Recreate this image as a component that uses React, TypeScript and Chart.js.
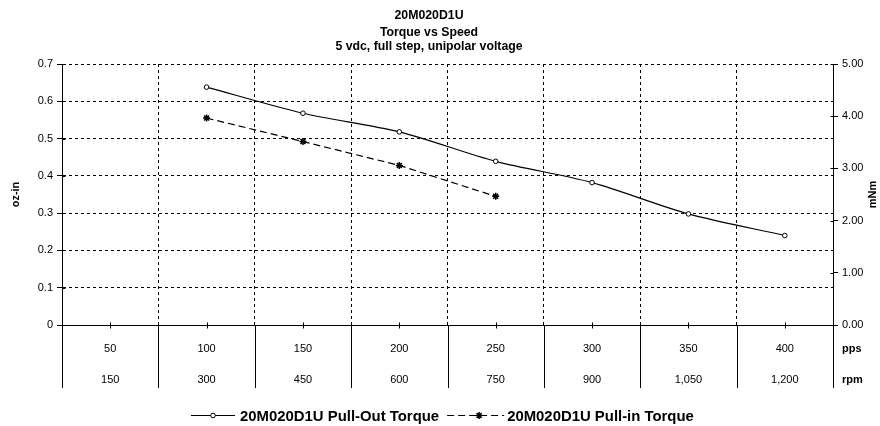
import React, { useEffect, useRef } from "react";
import { Chart, registerables } from "chart.js";

Chart.register(...registerables);

const titleLines = ["20M020D1U", "Torque vs Speed", "5 vdc, full step, unipolar voltage"];
const ppsLabels = ["50", "100", "150", "200", "250", "300", "350", "400"];
const rpmLabels = ["150", "300", "450", "600", "750", "900", "1,050", "1,200"];
const rowTitles = ["pps", "rpm"];
const pullOutTorque = [null, 0.638, 0.568, 0.518, 0.439, 0.382, 0.298, 0.24];
const pullInTorque = [null, 0.555, 0.492, 0.428, 0.345, null, null, null];
const seriesNames = ["20M020D1U Pull-Out Torque", "20M020D1U Pull-in Torque"];
const leftAxisTitle = "oz-in";
const rightAxisTitle = "mNm";

const FONT = '"Liberation Sans", Arial, Helvetica, sans-serif';

function drawStar(ctx: CanvasRenderingContext2D, x: number, y: number, r: number) {
  ctx.beginPath();
  ctx.moveTo(x - r, y);
  ctx.lineTo(x + r, y);
  ctx.moveTo(x, y - r);
  ctx.lineTo(x, y + r);
  const d = r * Math.SQRT1_2;
  ctx.moveTo(x - d, y - d);
  ctx.lineTo(x + d, y + d);
  ctx.moveTo(x - d, y + d);
  ctx.lineTo(x + d, y - d);
  ctx.stroke();
}

const extrasPlugin = {
  id: "extras",
  afterDraw(chart: any) {
    const ctx: CanvasRenderingContext2D = chart.ctx;
    const area = chart.chartArea;
    const xs = chart.scales.x;
    const ys = chart.scales.y;
    const y2 = chart.scales.y2;
    const L = Math.round(area.left) + 0.5;
    const R = Math.round(area.right) + 0.5;
    const B = Math.round(area.bottom) + 0.5;
    ctx.save();
    ctx.fillStyle = "#000";
    ctx.strokeStyle = "#000";
    ctx.lineWidth = 1;
    ctx.setLineDash([]);

    // Title
    ctx.font = `bold 12.3px ${FONT}`;
    ctx.textAlign = "center";
    ctx.textBaseline = "middle";
    const titleY = [16, 32.5, 47];
    titleLines.forEach((t, i) => ctx.fillText(t, 429, titleY[i]));

    // Axis titles
    ctx.font = `bold 11px ${FONT}`;
    const midY = (area.top + area.bottom) / 2;
    ctx.save();
    ctx.translate(16, midY);
    ctx.rotate(-Math.PI / 2);
    ctx.fillText(leftAxisTitle, 0, 0);
    ctx.restore();
    ctx.save();
    ctx.translate(873, midY);
    ctx.rotate(-Math.PI / 2);
    ctx.fillText(rightAxisTitle, 0, 0);
    ctx.restore();

    // inward parts of y ticks
    ctx.beginPath();
    ys.ticks.forEach((t: any) => {
      const py = Math.round(ys.getPixelForValue(t.value)) + 0.5;
      ctx.moveTo(L, py);
      ctx.lineTo(L + 3, py);
    });
    y2.ticks.forEach((t: any) => {
      const py = Math.round(y2.getPixelForValue(t.value)) + 0.5;
      ctx.moveTo(R - 3, py);
      ctx.lineTo(R, py);
    });
    ctx.stroke();

    // Data table lines below the axis
    const n = ppsLabels.length;
    const half = (xs.getPixelForValue(1) - xs.getPixelForValue(0)) / 2;
    const tableBottom = 388;
    ctx.beginPath();
    for (let i = 0; i <= n; i++) {
      const x = i === 0 ? L : i === n ? R : Math.round(xs.getPixelForValue(i) - half) + 0.5;
      ctx.moveTo(x, B);
      ctx.lineTo(x, tableBottom);
    }
    for (let i = 0; i < n; i++) {
      const x = Math.round(xs.getPixelForValue(i)) + 0.5;
      ctx.moveTo(x, B - 3);
      ctx.lineTo(x, B + 3);
    }
    ctx.stroke();

    // Table text
    ctx.font = `11px ${FONT}`;
    ctx.textAlign = "center";
    ctx.textBaseline = "middle";
    for (let i = 0; i < n; i++) {
      const x = xs.getPixelForValue(i);
      ctx.fillText(ppsLabels[i], x, 349);
      ctx.fillText(rpmLabels[i], x, 380);
    }
    ctx.font = `bold 11px ${FONT}`;
    ctx.textAlign = "left";
    ctx.fillText(rowTitles[0], 842, 349);
    ctx.fillText(rowTitles[1], 842, 380);

    // Legend
    const ly = 415.5;
    ctx.font = `bold 14.9px ${FONT}`;
    ctx.textBaseline = "middle";
    ctx.textAlign = "left";
    let x0 = 191;
    ctx.lineWidth = 1.2;
    ctx.beginPath();
    ctx.moveTo(x0, ly);
    ctx.lineTo(x0 + 44, ly);
    ctx.stroke();
    ctx.beginPath();
    ctx.arc(x0 + 22, ly, 2.3, 0, Math.PI * 2);
    ctx.fillStyle = "#fff";
    ctx.fill();
    ctx.lineWidth = 1;
    ctx.stroke();
    ctx.fillStyle = "#000";
    ctx.fillText(seriesNames[0], x0 + 49, ly + 1);
    const w1 = ctx.measureText(seriesNames[0]).width;
    x0 = x0 + 49 + w1 + 8;
    ctx.lineWidth = 1.2;
    ctx.setLineDash([7, 4]);
    ctx.beginPath();
    ctx.moveTo(x0, ly);
    ctx.lineTo(x0 + 57, ly);
    ctx.stroke();
    ctx.setLineDash([]);
    ctx.lineWidth = 1.5;
    drawStar(ctx, x0 + 32, ly, 3.5);
    ctx.fillText(seriesNames[1], x0 + 60, ly + 1);

    ctx.restore();
  },
};

export default function App() {
  const ref = useRef<HTMLCanvasElement | null>(null);
  useEffect(() => {
    document.body.style.margin = "0";
    const canvas = ref.current;
    if (!canvas) return;
    const tickFont = { family: FONT, size: 11 };
    const chart = new Chart(canvas, {
      type: "line",
      data: {
        labels: ppsLabels,
        datasets: [
          {
            label: seriesNames[0],
            data: pullOutTorque,
            yAxisID: "y",
            borderColor: "#000",
            backgroundColor: "#fff",
            borderWidth: 1.2,
            tension: 0.3,
            pointStyle: "circle",
            pointRadius: 2.3,
            pointBackgroundColor: "#fff",
            pointBorderColor: "#000",
            pointBorderWidth: 1,
            fill: false,
            spanGaps: false,
          },
          {
            label: seriesNames[1],
            data: pullInTorque,
            yAxisID: "y",
            borderColor: "#000",
            backgroundColor: "#000",
            borderWidth: 1.2,
            borderDash: [7, 4],
            tension: 0,
            pointStyle: "star",
            pointRadius: 3.5,
            pointBorderColor: "#000",
            pointBorderWidth: 1.5,
            fill: false,
          },
        ],
      },
      options: {
        responsive: false,
        animation: false,
        layout: { padding: { top: 64, left: 0, right: 0, bottom: 0 } },
        plugins: {
          legend: { display: false },
          title: { display: false },
          tooltip: { enabled: false },
        },
        scales: {
          x: {
            type: "category",
            offset: true,
            grid: { offset: true, color: "#000", lineWidth: 1, drawTicks: false },
            border: { display: true, color: "#000", width: 1, dash: [3, 3] },
            ticks: { display: false },
            afterFit: (s: any) => {
              s.height = 101;
            },
          },
          y: {
            position: "left",
            min: 0,
            max: 0.7,
            ticks: {
              stepSize: 0.1,
              color: "#000",
              font: tickFont,
              padding: 4,
              callback: (v: any) => (Number(v) === 0 ? "0" : Number(v).toFixed(1)),
            },
            grid: {
              color: "#000",
              lineWidth: 1,
              drawTicks: true,
              tickLength: 5,
              tickColor: "#000",
              tickBorderDash: [],
            },
            border: { display: true, color: "#000", width: 1, dash: [3, 3] },
            afterFit: (s: any) => {
              s.width = 62;
            },
          },
          y2: {
            position: "right",
            min: 0,
            max: 5,
            ticks: {
              stepSize: 1,
              color: "#000",
              font: tickFont,
              padding: 4,
              callback: (v: any) => Number(v).toFixed(2),
            },
            grid: {
              drawOnChartArea: false,
              drawTicks: true,
              tickLength: 5,
              tickColor: "#000",
              tickBorderDash: [],
            },
            border: { display: true, color: "#000", width: 1 },
            afterFit: (s: any) => {
              s.width = 47;
            },
          },
        },
      },
      plugins: [extrasPlugin],
    } as any);
    return () => chart.destroy();
  }, []);
  return <canvas ref={ref} width={880} height={426} style={{ display: "block" }} />;
}
